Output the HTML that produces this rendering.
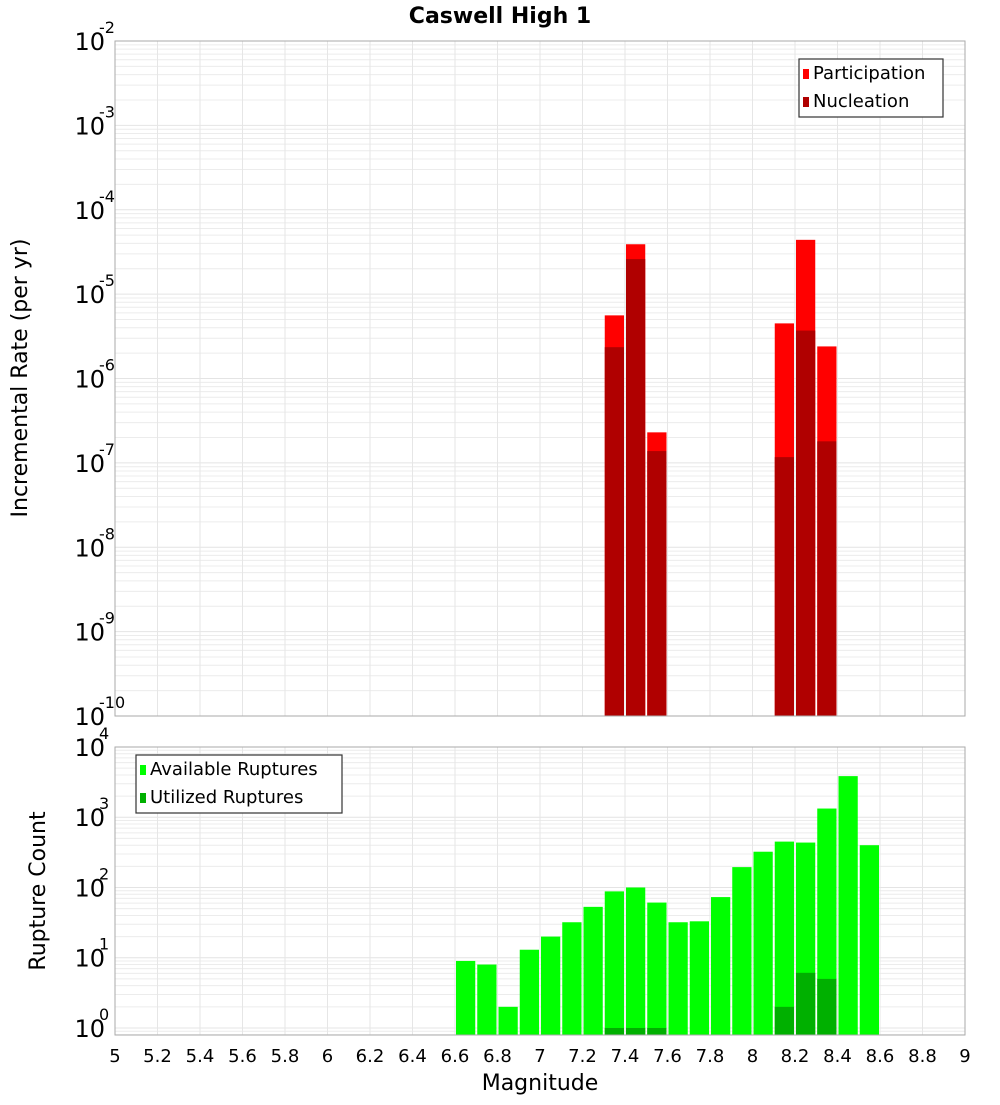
<!DOCTYPE html>
<html><head><meta charset="utf-8"><style>
body{margin:0;background:#fff;}
svg text{font-family:"DejaVu Sans","Liberation Sans",sans-serif;}
</style></head><body>
<svg id="chart" width="1000" height="1100" xmlns="http://www.w3.org/2000/svg">
<text x="500" y="23" text-anchor="middle" font-size="22" font-weight="bold">Caswell High 1</text>
<g id="topg"></g><g id="botg"></g>
<text transform="translate(27,378) rotate(-90)" text-anchor="middle" font-size="22">Incremental Rate (per yr)</text>
<text transform="translate(45,891) rotate(-90)" text-anchor="middle" font-size="22">Rupture Count</text>
<text x="540" y="1090" text-anchor="middle" font-size="22">Magnitude</text>
</svg>
<script>
const rateMags=[7.3,7.4,7.5,8.1,8.2,8.3];
const participation=[5.6e-6,3.9e-5,2.3e-7,4.5e-6,4.4e-5,2.4e-6];
const nucleation=[2.35e-6,2.6e-5,1.38e-7,1.17e-7,3.7e-6,1.8e-7];
const countMags=[6.6,6.7,6.8,6.9,7.0,7.1,7.2,7.3,7.4,7.5,7.6,7.7,7.8,7.9,8.0,8.1,8.2,8.3,8.4,8.5];
const available=[9,8,2,13,20,32,53,88,100,61,32,33,73,195,323,450,436,1330,3850,400];
const utilizedMags=[7.3,7.4,7.5,8.1,8.2,8.3];
const utilized=[1,1,1,2,6.1,5];
const xTicks=[5,5.2,5.4,5.6,5.8,6,6.2,6.4,6.6,6.8,7,7.2,7.4,7.6,7.8,8,8.2,8.4,8.6,8.8,9];
const topExps=[-2,-3,-4,-5,-6,-7,-8,-9,-10];
const botExps=[4,3,2,1,0];
const NS="http://www.w3.org/2000/svg";
const X0=115,X1=965;
const xs=m=>X0+(m-5)/4*(X1-X0);
function mk(p,t,a){const e=document.createElementNS(NS,t);for(const k in a)e.setAttribute(k,a[k]);p.appendChild(e);return e;}
function panel(g,ptop,pbottom,lmax,lmin,exps,name){
  const ys=v=>ptop+(lmax-Math.log10(v))/(lmax-lmin)*(pbottom-ptop);
  const bg=mk(g,'rect',{x:X0,y:ptop,width:X1-X0,height:pbottom-ptop,fill:'#fff'});
  
  
  for(let d=Math.floor(lmin);d<Math.ceil(lmax);d++)for(let k=1;k<10;k++){const v=k*Math.pow(10,d);const lv=Math.log10(v);if(lv<lmin||lv>lmax)continue;const y=ys(v);
    mk(g,'line',{x1:X0,x2:X1,y1:y,y2:y,stroke:k==1?'#e4e4e4':'#ececec','stroke-width':1});}
  for(let m=5.2;m<8.99;m+=0.2){mk(g,'line',{x1:xs(m),x2:xs(m),y1:ptop,y2:pbottom,stroke:'#e6e6e6'});}
  exps.forEach(e=>{const y=ys(Math.pow(10,e));const t=mk(g,'text',{x:105,y:y+9,'text-anchor':'end','font-size':24});
    
    
    t.textContent='10';const s=mk(g,'text',{x:99,y:y-8,'font-size':16});s.textContent=String(e);
    
    });
  return ys;
}
const topG=document.getElementById('topg'),botG=document.getElementById('botg');
const ys1=panel(topG,41,716,-2,-10,topExps,'rate');
const BW=(X1-X0)/40;
function bar(g,m,v,ys,base,fill,name){const y=ys(v);const r=mk(g,'rect',{x:xs(m)+1,y:y,width:BW-2,height:base-y,fill:fill});
  
  }
rateMags.forEach((m,i)=>{bar(topG,m,participation[i],ys1,716,'#ff0000','participation-bar');bar(topG,m,nucleation[i],ys1,716,'#b00000','nucleation-bar');});
mk(topG,'rect',{x:X0,y:41,width:X1-X0,height:675,fill:'none',stroke:'#aaa'});
const ys2=panel(botG,747,1035,4,-0.1,botExps,'count');
countMags.forEach((m,i)=>bar(botG,m,available[i],ys2,1035,'#00ff00','available-bar'));
utilizedMags.forEach((m,i)=>bar(botG,m,utilized[i],ys2,1035,'#00b000','utilized-bar'));
mk(botG,'rect',{x:X0,y:747,width:X1-X0,height:288,fill:'none',stroke:'#aaa'});
xTicks.forEach(m=>{const t=mk(botG,'text',{x:xs(m),y:1062,'text-anchor':'middle','font-size':18});t.textContent=String(m);
  
  });
function legend(g,x,y,w,items,name){const b=mk(g,'rect',{x:x,y:y,width:w,height:58,fill:'#fff',stroke:'#333','stroke-width':1.2});
  
  
  items.forEach((it,i)=>{mk(g,'rect',{x:x+4,y:y+10+i*28,width:6,height:10,fill:it[1]});
    const t=mk(g,'text',{x:x+14,y:y+20+i*28,'font-size':18});t.textContent=it[0];
    
    });}
legend(topG,799,59,144,[['Participation','#ff0000'],['Nucleation','#b00000']],'rate-legend');
legend(botG,136,755,206,[['Available Ruptures','#00ff00'],['Utilized Ruptures','#00b000']],'count-legend');
</script>
</body></html>
